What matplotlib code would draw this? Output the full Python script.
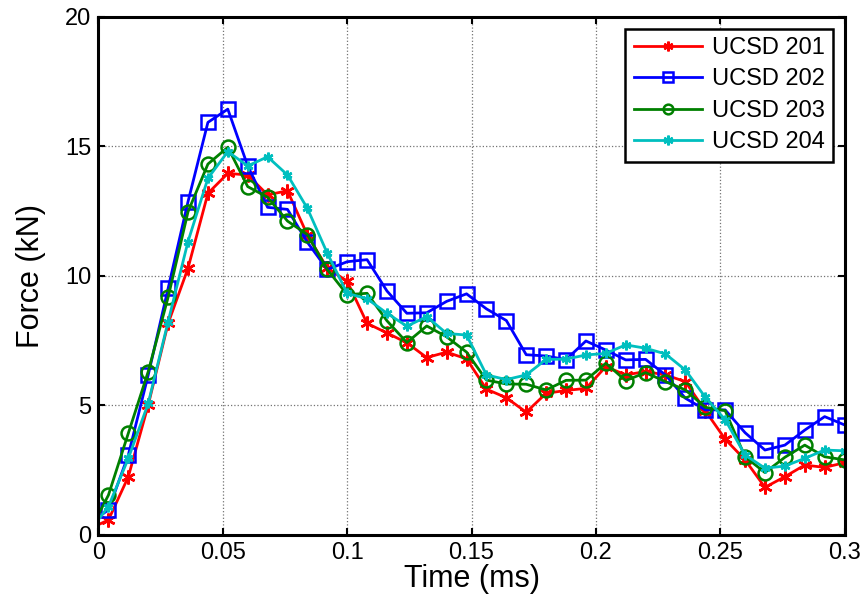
import numpy as np
import matplotlib
matplotlib.use("Agg")
import matplotlib.pyplot as plt

plt.rcParams["font.family"] = ["Liberation Sans", "DejaVu Sans"]

# ============================================================
# DATA
# ============================================================
# sample times (ms): start point at 0, then markers every 0.008 ms
TIME = [0.0] + [round(0.004 + 0.008 * k, 3) for k in range(38)]

UCSD_201 = [0.40,
            0.58, 2.25, 5.02, 8.17, 10.3, 13.19, 13.96, 13.9, 13.13, 13.29,
            11.58, 10.3, 9.8, 8.17, 7.8, 7.42, 6.85, 7.06, 6.8, 5.63,
            5.3, 4.74, 5.47, 5.58, 5.66, 6.5, 6.18, 6.31, 6.18, 5.92,
            4.8, 3.7, 2.9, 1.84, 2.25, 2.7, 2.61, 2.79]

UCSD_202 = [0.70,
            0.97, 3.09, 6.18, 9.52, 12.87, 15.93, 16.44, 14.25, 12.65, 12.57,
            11.3, 10.25, 10.55, 10.63, 9.42, 8.56, 8.58, 9.02, 9.31, 8.73,
            8.28, 6.96, 6.91, 6.77, 7.49, 7.14, 6.76, 6.78, 6.18, 5.28,
            4.83, 4.83, 3.95, 3.28, 3.47, 4.05, 4.57, 4.25]

UCSD_203 = [0.80,
            1.54, 3.93, 6.31, 9.18, 12.48, 14.32, 14.97, 13.45, 13.04, 12.12,
            11.6, 10.25, 9.28, 9.33, 8.27, 7.43, 8.07, 7.65, 7.06, 5.98,
            5.83, 5.82, 5.6, 5.97, 5.98, 6.63, 5.96, 6.27, 5.92, 5.6,
            4.93, 4.8, 3.02, 2.41, 3.0, 3.47, 3.02, 2.9]

UCSD_204 = [0.60,
            1.1, 2.96, 5.08, 8.24, 11.33, 13.77, 14.8, 14.25, 14.6, 13.9,
            12.61, 10.88, 9.33, 9.12, 8.56, 8.06, 8.43, 7.78, 7.72, 6.18,
            6.0, 6.18, 6.78, 6.79, 6.95, 7.01, 7.34, 7.21, 6.99, 6.37,
            5.32, 4.45, 3.09, 2.58, 2.66, 2.96, 3.28, 3.25]

LABELS = ["UCSD 201", "UCSD 202", "UCSD 203", "UCSD 204"]
X_TICKS = [0, 0.05, 0.1, 0.15, 0.2, 0.25, 0.3]
X_TICK_LABELS = ["0", "0.05", "0.1", "0.15", "0.2", "0.25", "0.3"]
Y_TICKS = [0, 5, 10, 15, 20]

# ============================================================
# STYLE
# ============================================================
ASTERISK = (6, 2, 0)
STYLES = [
    dict(color=(1.0, 0.0, 0.0), marker=ASTERISK, markersize=10, mfc="none"),
    dict(color=(0.0, 0.0, 1.0), marker="s", markersize=10, mfc="none"),
    dict(color=(0.0, 0.5, 0.0), marker="o", markersize=10, mfc="none"),
    dict(color=(0.0, 0.75, 0.75), marker=ASTERISK, markersize=7, mfc="none"),
]


def main():
    fig = plt.figure(figsize=(8.67, 6.16), dpi=100)
    ax = fig.add_axes([0.1136, 0.1315, 0.8605, 0.841])

    series = [UCSD_201, UCSD_202, UCSD_203, UCSD_204]
    t = np.asarray(TIME)
    for vals, label, st in zip(series, LABELS, STYLES):
        ax.plot(
            t, np.asarray(vals),
            label=label,
            linewidth=2.0,
            markeredgewidth=1.8,
            markevery=range(1, len(t)),
            **st,
        )

    ax.set_xlim(0, 0.3)
    ax.set_ylim(0, 20)
    ax.set_xticks(X_TICKS)
    ax.set_xticklabels(X_TICK_LABELS)
    ax.set_yticks(Y_TICKS)

    ax.grid(True, color=(0.45, 0.45, 0.45), linestyle=":", linewidth=0.9)
    ax.tick_params(direction="in", length=5, width=1.5, top=True, right=True,
                   labelsize=17, pad=5)
    for sp in ax.spines.values():
        sp.set_linewidth(2.2)

    ax.set_xlabel("Time (ms)", fontsize=22, labelpad=0)
    ax.set_ylabel("Force (kN)", fontsize=22, labelpad=14)

    leg = ax.legend(
        loc="upper right",
        fontsize=17,
        fancybox=False,
        framealpha=1.0,
        edgecolor="black",
        handlelength=2.9,
        labelspacing=0.4,
        borderpad=0.35,
        handletextpad=0.4,
    )
    leg.get_frame().set_linewidth(1.8)
    for h in leg.legend_handles:
        h.set_markersize(7)

    fig.savefig("out.png", dpi=100)
    plt.close(fig)


if __name__ == "__main__":
    main()
